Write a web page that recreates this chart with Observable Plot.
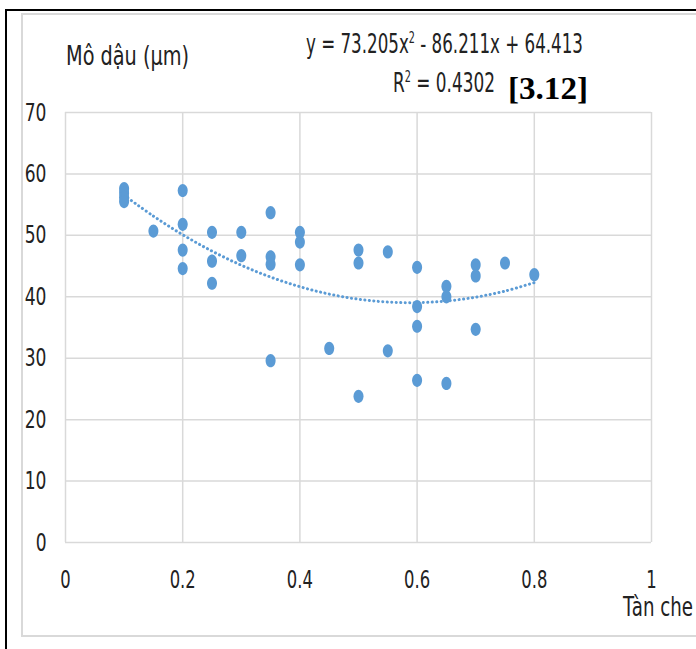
<!DOCTYPE html>
<html>
<head>
<meta charset="utf-8">
<script src="https://cdn.jsdelivr.net/npm/d3@7"></script>
<script src="https://cdn.jsdelivr.net/npm/@observablehq/plot@0.6"></script>
<style>
  html, body { margin: 0; padding: 0; background: #fff; }
  #wrap { position: relative; width: 696px; height: 649px; overflow: hidden; background: #fff;
          font-family: "DejaVu Sans Condensed", "Liberation Sans Narrow", "Open Sans", sans-serif; color: #222; }
  #wrap svg { position: absolute; left: 0; top: 0; }
  .abs { position: absolute; white-space: nowrap; line-height: 1; }
  .lbl { font-size: 26px; }
  .fit { transform-origin: 0 50%; }
  sup { font-size: 15px; vertical-align: 0; position: relative; top: -10px; }
</style>
</head>
<body>
<div id="wrap">
  <div class="abs" style="left:5px;top:9px;width:2px;height:640px;background:#000"></div>
  <div class="abs" style="left:5px;top:9px;width:691px;height:2px;background:#000"></div>
  <div class="abs" style="left:21px;top:13px;width:700px;height:624px;border:2px solid #d9d9d9;box-sizing:border-box"></div>
  <div id="chart"></div>
  <div class="abs lbl fit" data-w="123" style="left:66px;top:43px">Mô dậu (µm)</div>
  <div class="abs lbl fit" data-w="277" style="left:306px;top:31px">y = 73.205x<sup>2</sup> - 86.211x + 64.413</div>
  <div class="abs lbl fit" data-w="102" style="left:393px;top:70px">R<sup>2</sup> = 0.4302</div>
  <div class="abs fit" data-w="80" style="left:508px;top:72px;font-family:'Liberation Serif','DejaVu Serif',serif;font-weight:bold;font-size:32px;color:#000">[3.12]</div>
  <div class="abs lbl fit" data-w="70" style="left:623px;top:594px">Tàn che</div>
</div>
<script>
// Data
const canopy = [0.1,0.1,0.1,0.1, 0.15, 0.2,0.2,0.2,0.2, 0.25,0.25,0.25, 0.3,0.3,
  0.35,0.35,0.35,0.35, 0.4,0.4,0.4, 0.45, 0.5,0.5,0.5, 0.55,0.55,
  0.6,0.6,0.6,0.6, 0.65,0.65,0.65, 0.7,0.7,0.7, 0.75, 0.8];
const thickness = [57.6,56.9,56.2,55.5, 50.7, 57.3,51.8,47.6,44.6, 50.5,45.8,42.2, 50.5,46.7,
  53.7,46.5,45.3,29.6, 50.5,48.9,45.2, 31.6, 47.6,45.5,23.8, 47.3,31.2,
  44.8,38.4,35.2,26.4, 41.7,40.0,25.9, 45.2,43.4,34.7, 45.5, 43.6];
// Polynomial trendline as shown on the chart
const trendX = [0.1,0.15,0.2,0.25,0.3,0.35,0.4,0.45,0.5,0.55,0.6,0.65,0.7,0.75,0.8];
const trendY = [56.52,53.13,50.10,47.44,45.14,43.21,41.64,40.44,39.61,39.14,39.04,39.31,39.94,40.93,42.30];
const xTicks = [0,0.2,0.4,0.6,0.8,1];
const yTicks = [0,10,20,30,40,50,60,70];

const points = canopy.map((x, i) => ({x, y: thickness[i]}));
const trend = trendX.map((x, i) => ({x, y: trendY[i]}));

const k = 0.5523;
const ellipse = {
  draw(ctx) {
    const rx = 5, ry = 6.6;
    ctx.moveTo(rx, 0);
    ctx.bezierCurveTo(rx, ry*k, rx*k, ry, 0, ry);
    ctx.bezierCurveTo(-rx*k, ry, -rx, ry*k, -rx, 0);
    ctx.bezierCurveTo(-rx, -ry*k, -rx*k, -ry, 0, -ry);
    ctx.bezierCurveTo(rx*k, -ry, rx, -ry*k, rx, 0);
    ctx.closePath();
  }
};

const blue = "#5B9BD5";
const chart = Plot.plot({
  width: 696,
  height: 649,
  marginLeft: 65,
  marginRight: 45,
  marginTop: 112,
  marginBottom: 107,
  style: {fontFamily: '"DejaVu Sans Condensed", "Liberation Sans Narrow", sans-serif', fontSize: "24px", color: "#222", background: "transparent", overflow: "visible"},
  x: {domain: [0, 1], label: null},
  y: {domain: [0, 70], label: null},
  marks: [
    Plot.gridX(xTicks, {stroke: "#d9d9d9", strokeOpacity: 1, strokeWidth: 1.5}),
    Plot.gridY(yTicks, {stroke: "#d9d9d9", strokeOpacity: 1, strokeWidth: 1.5}),
    Plot.axisX(xTicks, {tickSize: 0, tickPadding: 28, tickFormat: d => String(d), fontSize: 24, label: null}),
    Plot.axisY(yTicks, {tickSize: 0, tickPadding: 19, tickFormat: d => String(d), fontSize: 25, label: null}),
    Plot.line(trend, {x: "x", y: "y", stroke: blue, strokeWidth: 3, strokeDasharray: "0.1,4.4", strokeLinecap: "round", curve: "catmull-rom"}),
    Plot.dot(points, {x: "x", y: "y", fill: blue, symbol: ellipse, r: 5})
  ]
});
document.getElementById("chart").appendChild(chart);

// Narrow the tick labels horizontally (reference font is condensed)
chart.querySelectorAll('g[aria-label="x-axis tick label"] text, g[aria-label="y-axis tick label"] text').forEach(t => {
  const s = 0.76;
  const tr = t.getAttribute("transform");
  if (tr && tr.includes("translate")) {
    t.setAttribute("transform", tr + ` scale(${s},1)`);
  } else {
    const x = +(t.getAttribute("x") || 0), y = +(t.getAttribute("y") || 0);
    t.setAttribute("x", 0); t.setAttribute("y", 0);
    t.setAttribute("transform", (tr || "") + ` translate(${x},${y}) scale(${s},1)`);
  }
});

// Fit annotation widths to those measured on the reference
document.querySelectorAll(".fit").forEach(el => {
  const w = el.getBoundingClientRect().width;
  const target = +el.dataset.w;
  if (w > 0) el.style.transform = `scaleX(${target / w})`;
});
</script>
</body>
</html>
